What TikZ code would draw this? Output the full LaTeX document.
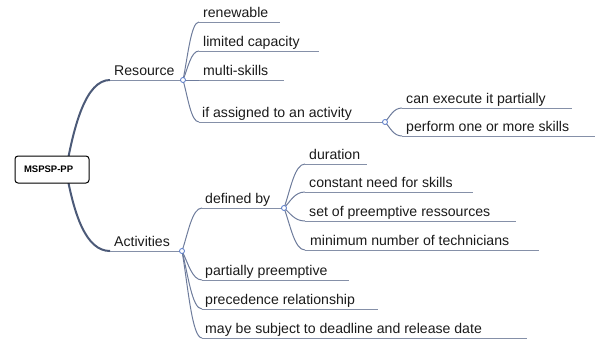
\documentclass[tikz,border=0pt]{standalone}
\usepackage{fontspec}
\setmainfont{Liberation Sans}
\usetikzlibrary{calc}
\definecolor{rootblue}{HTML}{4C5A78}
\definecolor{connblue}{HTML}{6E7C9C}
\definecolor{lineblue}{HTML}{8590A8}
\definecolor{knobblue}{HTML}{5578C8}
\definecolor{txt}{HTML}{1A1A1A}
\newcommand\mybranch[2]{\draw[conn] let \p1=(#1), \p2=(#2) in (#1) .. controls ({\x1+0.3*(\x2-\x1)},{\y1+0.4*(\y2-\y1)}) and ({\x1+0.5*(\x2-\x1)},\y2) .. (#2);}
\begin{document}
\begin{tikzpicture}[x=1pt,y=-1pt,
  lbl/.style={anchor=base west, inner sep=0pt, font=\fontsize{14.1}{16}\selectfont, text=txt},
  uline/.style={draw=lineblue, line width=0.9pt},
  conn/.style={draw=connblue, line width=1pt},
  rootconn/.style={draw=rootblue, line width=2pt},
  knob/.style={circle, draw=knobblue, fill=white, line width=0.8pt, inner sep=0pt, minimum size=5pt},
  rootbox/.style={draw=black, rounded corners=3pt, line width=1pt, fill=white, text width=56pt, inner xsep=9pt, minimum height=27pt, align=left, font=\bfseries\fontsize{9.5}{11}\selectfont}]
\useasboundingbox (0,0) rectangle (596,340);

% coordinates
\coordinate (rootout) at (66,170);
\coordinate (resA) at (110,80);  \coordinate (resK) at (183,80);
\coordinate (actA) at (110,251); \coordinate (actK) at (182,251);

\coordinate (r1a) at (199,22);  \coordinate (r1b) at (280,22);
\coordinate (r2a) at (199,51);  \coordinate (r2b) at (319,51);
\coordinate (r3a) at (199,80);  \coordinate (r3b) at (284,80);
\coordinate (r4a) at (199,122); \coordinate (r4K) at (385,122);
\coordinate (r41a) at (402,108); \coordinate (r41b) at (572,108);
\coordinate (r42a) at (402,136); \coordinate (r42b) at (595,136);

\coordinate (a1a) at (202,208); \coordinate (a1K) at (284,208);
\coordinate (a11a) at (305,164); \coordinate (a11b) at (367,164);
\coordinate (a12a) at (305,192); \coordinate (a12b) at (473,192);
\coordinate (a13a) at (305,221); \coordinate (a13b) at (516,221);
\coordinate (a14a) at (305,250); \coordinate (a14b) at (539,250);
\coordinate (a2a) at (202,280); \coordinate (a2b) at (349,280);
\coordinate (a3a) at (202,309); \coordinate (a3b) at (378,309);
\coordinate (a4a) at (202,338); \coordinate (a4b) at (527,338);

% root connectors
\draw[rootconn] (rootout) .. controls (74,125) and (86,80) .. (resA);
\draw[rootconn] (rootout) .. controls (74,215) and (86,251) .. (actA);

% underlines
\foreach \p/\q in {resA/resK, actA/actK, r1a/r1b, r2a/r2b, r3a/r3b, r4a/r4K,
  r41a/r41b, r42a/r42b, a1a/a1K, a11a/a11b, a12a/a12b, a13a/a13b, a14a/a14b,
  a2a/a2b, a3a/a3b, a4a/a4b}
  \draw[uline] (\p) -- (\q);

% branch connectors
\mybranch{resK}{r1a}
\mybranch{resK}{r2a}
\draw[conn] (resK) -- (r3a);
\mybranch{resK}{r4a}
\mybranch{r4K}{r41a}
\mybranch{r4K}{r42a}
\mybranch{actK}{a1a}
\mybranch{actK}{a2a}
\mybranch{actK}{a3a}
\mybranch{actK}{a4a}
\mybranch{a1K}{a11a}
\mybranch{a1K}{a12a}
\mybranch{a1K}{a13a}
\mybranch{a1K}{a14a}

% labels
\node[lbl] (resL) at ($(resA)+(4,-5)$) {Resource};
\node[lbl] (actL) at ($(actA)+(4,-5)$) {Activities};
\node[lbl] (r1L) at ($(r1a)+(4,-5)$) {renewable};
\node[lbl] (r2L) at ($(r2a)+(4,-5)$) {limited capacity};
\node[lbl] (r3L) at ($(r3a)+(4,-5)$) {multi-skills};
\node[lbl] (r4L) at ($(r4a)+(3,-5)$) {if assigned to an activity};
\node[lbl] (r41L) at ($(r41a)+(4,-5)$) {can execute it partially};
\node[lbl] (r42L) at ($(r42a)+(4,-5)$) {perform one or more skills};
\node[lbl] (a1L) at ($(a1a)+(3,-5)$) {defined by};
\node[lbl] (a11L) at ($(a11a)+(4,-5)$) {duration};
\node[lbl] (a12L) at ($(a12a)+(4,-5)$) {constant need for skills};
\node[lbl] (a13L) at ($(a13a)+(4,-5)$) {set of preemptive ressources};
\node[lbl] (a14L) at ($(a14a)+(5,-5)$) {minimum number of technicians};
\node[lbl] (a2L) at ($(a2a)+(3,-5)$) {partially preemptive};
\node[lbl] (a3L) at ($(a3a)+(3,-5)$) {precedence relationship};
\node[lbl] (a4L) at ($(a4a)+(3,-5)$) {may be subject to deadline and release date};

% knobs
\node[knob] (resKn) at (resK) {};
\node[knob] (actKn) at (actK) {};
\node[knob] (r4Kn) at (r4K) {};
\node[knob] (a1Kn) at (a1K) {};

% root
\node[rootbox] (root) at (52,169.5) {MSPSP-PP};
\end{tikzpicture}
\end{document}
